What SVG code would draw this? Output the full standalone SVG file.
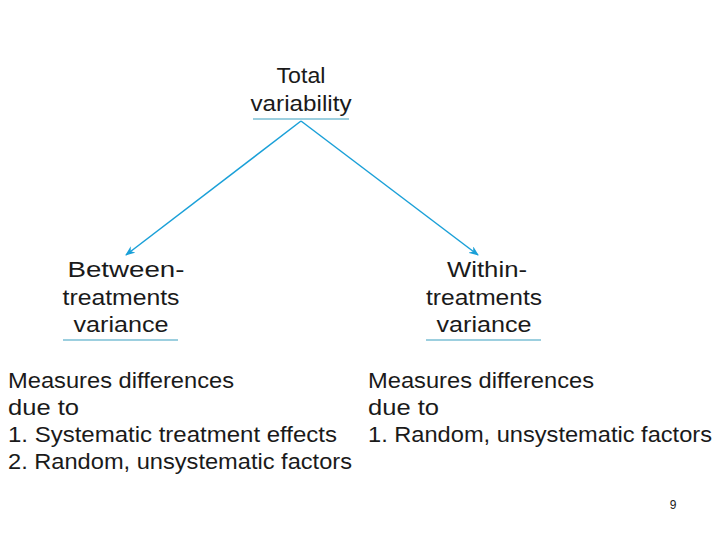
<svg xmlns="http://www.w3.org/2000/svg" width="720" height="540" viewBox="0 0 720 540">
<defs>
<marker id="ah" markerWidth="10" markerHeight="8" refX="9" refY="4" orient="auto" markerUnits="userSpaceOnUse">
<path d="M0,0 L10,4 L0,8 L3,4 Z" fill="#1aa0d8"/>
</marker>
</defs>
<style>
text{font-family:"Liberation Sans","DejaVu Sans",sans-serif;fill:#1a1a1a;font-size:22px}
.c{text-anchor:middle}
.ul{stroke:#3a9fbf;stroke-width:1.2}
.arr{stroke:#1aa0d8;stroke-width:1.5;fill:none}
.pg{font-size:12px}
</style>
<rect width="720" height="540" fill="#fff"/>
<g id="total">
<text class="c" x="301" y="83" textLength="49" lengthAdjust="spacingAndGlyphs">Total</text>
<text class="c" x="301" y="111" textLength="101" lengthAdjust="spacingAndGlyphs">variability</text>
<line class="ul" x1="253" y1="119" x2="349" y2="119"/>
</g>
<g id="between">
<text class="c" x="126" y="277" textLength="117" lengthAdjust="spacingAndGlyphs">Between-</text>
<text class="c" x="121" y="305" textLength="117" lengthAdjust="spacingAndGlyphs">treatments</text>
<text class="c" x="121" y="332" textLength="95" lengthAdjust="spacingAndGlyphs">variance</text>
<line class="ul" x1="63" y1="340" x2="178" y2="340"/>
</g>
<g id="within">
<text class="c" x="487" y="277" textLength="80" lengthAdjust="spacingAndGlyphs">Within-</text>
<text class="c" x="484" y="305" textLength="116" lengthAdjust="spacingAndGlyphs">treatments</text>
<text class="c" x="484" y="332" textLength="95" lengthAdjust="spacingAndGlyphs">variance</text>
<line class="ul" x1="426" y1="340" x2="541" y2="340"/>
</g>
<g id="connectors">
<line class="arr" x1="301" y1="121" x2="126" y2="255" marker-end="url(#ah)"/>
<line class="arr" x1="301" y1="121" x2="478" y2="255" marker-end="url(#ah)"/>
</g>
<g id="between-desc">
<text x="8" y="388" textLength="226" lengthAdjust="spacingAndGlyphs">Measures differences</text>
<text x="8" y="415" textLength="71" lengthAdjust="spacingAndGlyphs">due to</text>
<text x="8" y="442" textLength="329" lengthAdjust="spacingAndGlyphs">1. Systematic treatment effects</text>
<text x="8" y="469" textLength="344" lengthAdjust="spacingAndGlyphs">2. Random, unsystematic factors</text>
</g>
<g id="within-desc">
<text x="368" y="388" textLength="226" lengthAdjust="spacingAndGlyphs">Measures differences</text>
<text x="368" y="415" textLength="71" lengthAdjust="spacingAndGlyphs">due to</text>
<text x="368" y="442" textLength="344" lengthAdjust="spacingAndGlyphs">1. Random, unsystematic factors</text>
</g>
<text class="pg" x="673" y="509" text-anchor="middle">9</text>
</svg>
